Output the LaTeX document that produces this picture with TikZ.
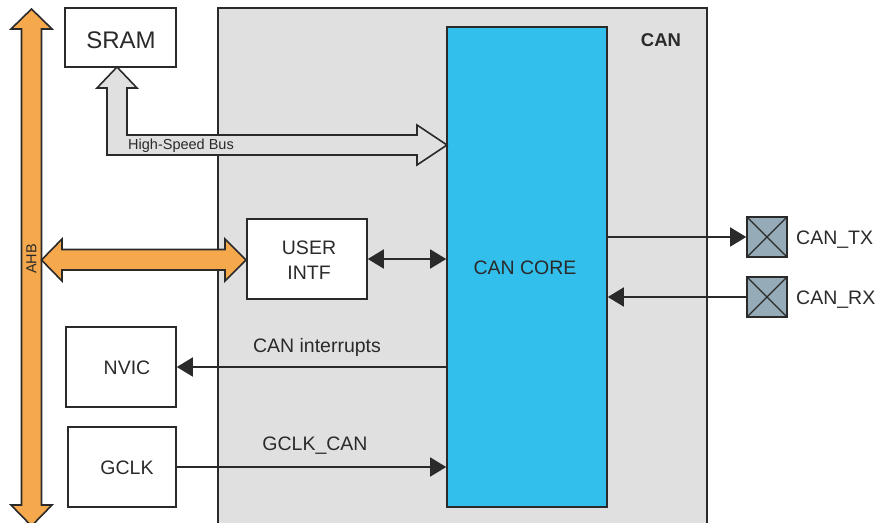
\documentclass[tikz,border=0pt]{standalone}
\usepackage{fontspec}
\setmainfont{Liberation Sans}
\usetikzlibrary{arrows.meta,calc}
\definecolor{ink}{HTML}{2A2A2A}
\definecolor{cangray}{HTML}{E0E0E0}
\definecolor{coreblue}{HTML}{33BFEC}
\definecolor{ahborange}{HTML}{F6A84D}
\definecolor{padgray}{HTML}{95ABB8}
\tikzset{
  box/.style={draw=ink, line width=1.6pt, fill=white, inner sep=0pt},
  pad/.style={draw=ink, line width=1.6pt, fill=padgray, minimum width=40pt, minimum height=40pt, inner sep=0pt,
    path picture={\draw[ink, line width=1.2pt] (path picture bounding box.north west) -- (path picture bounding box.south east)
      (path picture bounding box.south west) -- (path picture bounding box.north east);}},
  txt/.style={text=ink, font=\fontsize{19.5}{25}\selectfont, inner sep=0pt},
  conn/.style={draw=ink, line width=1.6pt},
  tip/.style={-{Triangle[length=16pt,width=19pt]}},
  bigarrow/.style={draw=ink, line width=1.6pt, line join=miter}
}
\begin{document}
\begin{tikzpicture}[x=1pt,y=-1pt]
\useasboundingbox (0,0) rectangle (878,522);
% CAN block
\fill[cangray] (218,8) rectangle (707,530);
\draw[ink, line width=1.6pt] (218,530) -- (218,8) -- (707,8) -- (707,530);
\node[text=ink, font=\fontsize{18.5}{22}\selectfont\bfseries, inner sep=0pt] (canlbl) at (661,40) {CAN};
% CAN core
\node[box, fill=coreblue, minimum width=160pt, minimum height=480pt] (core) at (527,267) {};
\node[txt] (coretxt) at (525,268) {CAN CORE};
% SRAM
\node[box, minimum width=111pt, minimum height=59pt] (sram) at (120.5,37.5) {};
\node[txt, font=\fontsize{24}{28}\selectfont] (sramtxt) at (121,40) {SRAM};
% High-speed bus
\draw[bigarrow, fill=cangray] (117,67) -- (137,88) -- (127,88) -- (127,135) -- (417,135) -- (417,125) -- (447,145)
  -- (417,165) -- (417,155) -- (107,155) -- (107,88) -- (97,88) -- cycle;
\node[text=ink, font=\fontsize{14.5}{17}\selectfont, anchor=west, inner sep=0pt] (hsb) at (128,145.5) {High-Speed Bus};
% AHB vertical
\draw[bigarrow, fill=ahborange] (31.5,9) -- (52,29) -- (41.5,29) -- (41.5,505) -- (52,505) -- (31.5,526)
  -- (11,505) -- (21.5,505) -- (21.5,29) -- (11,29) -- cycle;
\node[text=ink, font=\fontsize{14.5}{17}\selectfont, rotate=90, inner sep=0pt] (ahb) at (31.5,259) {AHB};
% AHB horizontal
\draw[bigarrow, fill=ahborange] (41.5,260) -- (62,239) -- (62,249.5) -- (225,249.5) -- (225,239) -- (246,260)
  -- (225,281) -- (225,270) -- (62,270) -- (62,281) -- cycle;
% USER INTF
\node[box, minimum width=120pt, minimum height=80pt] (uintf) at (307,259) {};
\node[txt, align=center] (uintftxt) at (309,260) {USER\\INTF};
% NVIC, GCLK
\node[box, minimum width=110pt, minimum height=80pt] (nvic) at (121,367) {};
\node[txt] (nvictxt) at (127,368) {NVIC};
\node[box, minimum width=108pt, minimum height=80pt] (gclk) at (122,467) {};
\node[txt] (gclktxt) at (127,468) {GCLK};
% pads
\node[pad] (tx) at (767,237) {};
\node[pad] (rx) at (767,297) {};
\node[txt, anchor=west] (txtxt) at (796,240) {CAN\_TX};
\node[txt, anchor=west] (rxtxt) at (796,300) {CAN\_RX};
% connectors
\draw[conn, {Triangle[length=16pt,width=19pt]}-{Triangle[length=16pt,width=19pt]}] (uintf.east) -- (uintf.east -| core.west);
\draw[conn, tip] (nvic.east -| core.west) -- (nvic.east);
\draw[conn, tip] (gclk.east) -- (gclk.east -| core.west);
\draw[conn, tip] (core.east |- tx.west) -- (tx.west);
\draw[conn, tip] (rx.west) -- (core.east |- rx.west);
\node[txt] (intlbl) at (317,347) {CAN interrupts};
\node[txt] (gclklbl) at (315,446) {GCLK\_CAN};
\end{tikzpicture}
\end{document}
